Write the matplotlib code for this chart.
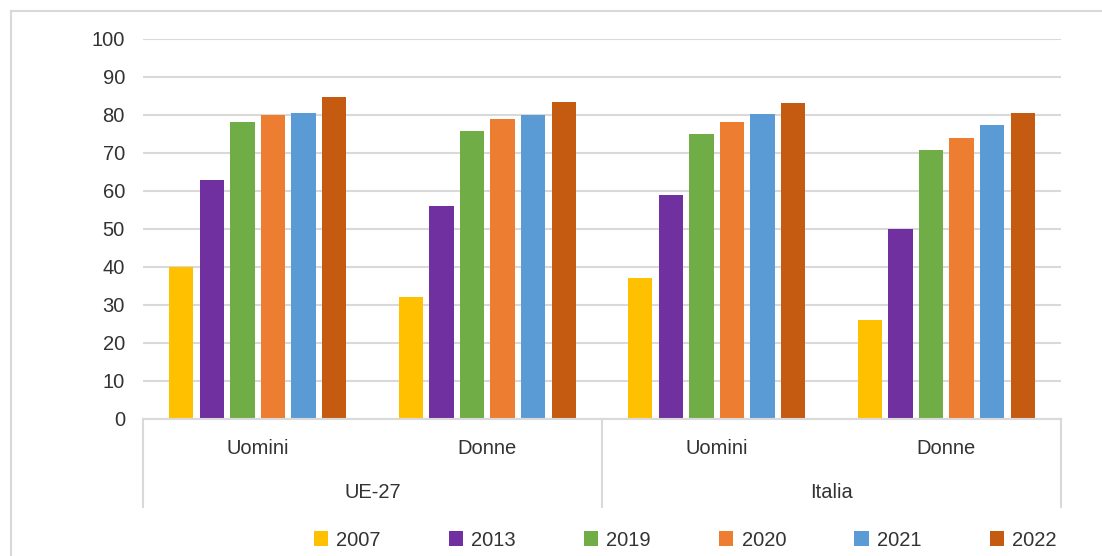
import matplotlib
matplotlib.use("Agg")
import matplotlib.pyplot as plt
from matplotlib.lines import Line2D
from matplotlib.patches import Patch
import matplotlib.transforms as mtransforms
import numpy as np

plt.rcParams['font.family'] = ['Liberation Sans', 'DejaVu Sans']

groups = ["UE-27", "Italia"]
categories = ["Uomini", "Donne", "Uomini", "Donne"]
years = ["2007", "2013", "2019", "2020", "2021", "2022"]
colors = ["#FFC000", "#7030A0", "#70AD47", "#ED7D31", "#5B9BD5", "#C55A11"]

v2007 = [40.0, 32.1, 37.1, 26.0]
v2013 = [63.0, 56.0, 58.9, 50.0]
v2019 = [78.1, 75.9, 74.9, 70.8]
v2020 = [80.0, 79.0, 78.1, 73.9]
v2021 = [80.6, 80.0, 80.3, 77.5]
v2022 = [84.7, 83.4, 83.1, 80.6]
series = [v2007, v2013, v2019, v2020, v2021, v2022]

W, H = 1102, 556
fig = plt.figure(figsize=(W / 100, H / 100), dpi=100)
left, right, top, bottom = 143, 1061, 39, 419
ax = fig.add_axes([left / W, 1 - bottom / H, (right - left) / W, (bottom - top) / H])

txt = "#333333"
grid_c = "#D9D9D9"
fs = 14.5

x = np.arange(len(categories)) + 0.5
step = 0.133
bw = 0.105
for i, (vals, c, y) in enumerate(zip(series, colors, years)):
    ax.bar(x + (i - 2.5) * step, vals, width=bw, color=c, label=y, zorder=3)

ax.set_xlim(0, len(categories))
ax.set_ylim(0, 100)
ax.set_yticks(np.arange(0, 101, 10))
ax.yaxis.grid(True, color=grid_c, linewidth=1.5, zorder=0)
ax.set_axisbelow(True)
for s in ax.spines.values():
    s.set_visible(False)
ax.tick_params(axis='y', length=0, pad=13, labelsize=fs, labelcolor=txt)
ax.set_xticks([])

# bottom axis line and group separators
ax.plot([0, len(categories)], [0, 0], color=grid_c, linewidth=1.5, zorder=4, clip_on=False)
trans = mtransforms.blended_transform_factory(ax.transData, ax.transAxes)
sep_bottom = -(507 - bottom) / (bottom - top)
for xs in [0, 2, 4]:
    ax.plot([xs, xs], [0, sep_bottom], color=grid_c, linewidth=1.5, transform=trans, clip_on=False)

cat_y = -(448 - bottom) / (bottom - top)
grp_y = -(492 - bottom) / (bottom - top)
for xi, c in zip(x, categories):
    ax.text(xi, cat_y, c, transform=trans, ha='center', va='center', fontsize=fs, color=txt)
for gi, g in enumerate(groups):
    ax.text(gi * 2 + 1, grp_y, g, transform=trans, ha='center', va='center', fontsize=fs, color=txt)

handles = [Patch(facecolor=c, edgecolor='none') for c in colors]
leg = fig.legend(handles, years, loc='center', bbox_to_anchor=(685 / W, 1 - 540 / H),
                 ncol=6, frameon=False, fontsize=fs, handlelength=0.7, handleheight=0.7,
                 handletextpad=0.4, columnspacing=3.4, borderpad=0)
for t in leg.get_texts():
    t.set_color(txt)

# outer chart border (left and top visible)
fig.add_artist(Line2D([11 / W, 11 / W], [0, 1 - 11 / H], color=grid_c, linewidth=1.5))
fig.add_artist(Line2D([11 / W, 1], [1 - 11 / H, 1 - 11 / H], color=grid_c, linewidth=1.5))

fig.savefig("out.png", dpi=100, facecolor="white")
